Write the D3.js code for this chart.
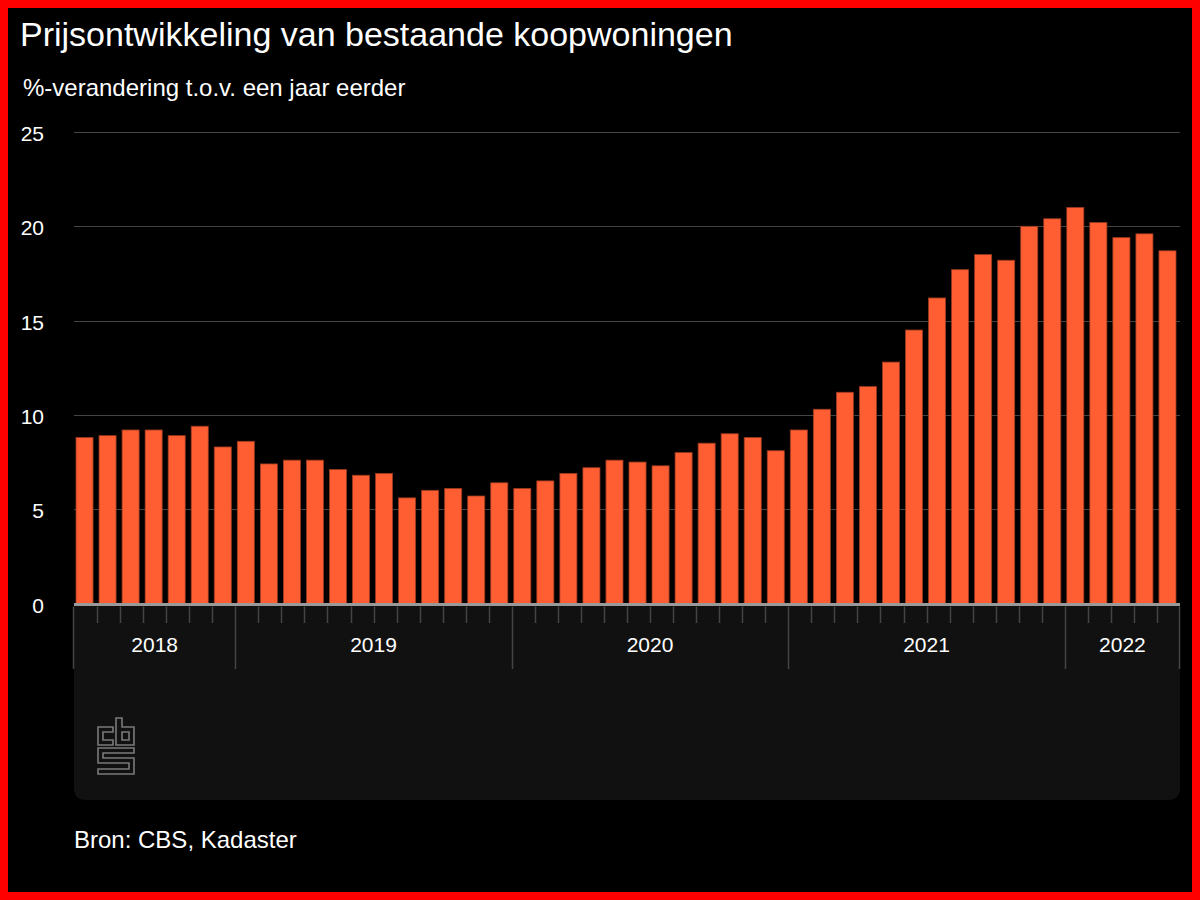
<!DOCTYPE html>
<html>
<head>
<meta charset="utf-8">
<script src="https://cdn.jsdelivr.net/npm/d3@7"></script>
<style>
  html, body { margin: 0; padding: 0; background: #000; }
  svg { display: block; }
</style>
</head>
<body>
<svg id="chart" width="1200" height="900"></svg>
<script>
// ---- data ----
const years = [2018, 2019, 2020, 2021, 2022];
const monthsPerYear = [7, 12, 12, 12, 5]; // 2018: jun-dec, 2022: jan-mei
const values = [
  8.8, 8.9, 9.2, 9.2, 8.9, 9.4, 8.3,
  8.6, 7.4, 7.6, 7.6, 7.1, 6.8, 6.9, 5.6, 6.0, 6.1, 5.7, 6.4,
  6.1, 6.5, 6.9, 7.2, 7.6, 7.5, 7.3, 8.0, 8.5, 9.0, 8.8, 8.1,
  9.2, 10.3, 11.2, 11.5, 12.8, 14.5, 16.2, 17.7, 18.5, 18.2, 20.0, 20.4,
  21.0, 20.2, 19.4, 19.6, 18.7
];
const yTicks = [0, 5, 10, 15, 20, 25];
const title = "Prijsontwikkeling van bestaande koopwoningen";
const subtitle = "%-verandering t.o.v. een jaar eerder";
const source = "Bron: CBS, Kadaster";

// ---- layout ----
const W = 1200, H = 900;
const plotLeft = 74, plotRight = 1180, plotTop = 132, zeroY = 603.5;
const svg = d3.select("#chart");
const font = "'Liberation Sans', Arial, sans-serif";

svg.append("rect").attr("width", W).attr("height", H).attr("fill", "#000");

const idx = d3.range(values.length);
const x = d3.scaleBand().domain(idx).range([plotLeft, plotRight]).padding(0);
const y = d3.scaleLinear().domain([0, 25]).range([zeroY, plotTop]);

// panel below axis
const panelBottom = 800, r = 12;
svg.append("path")
  .attr("d", `M${plotLeft},${zeroY} H${plotRight} V${panelBottom - r} Q${plotRight},${panelBottom} ${plotRight - r},${panelBottom} H${plotLeft + r} Q${plotLeft},${panelBottom} ${plotLeft},${panelBottom - r} Z`)
  .attr("fill", "#111");

// gridlines + y labels
const gy = svg.append("g");
gy.selectAll("line").data(yTicks.filter(t => t > 0)).join("line")
  .attr("x1", plotLeft).attr("x2", plotRight)
  .attr("y1", d => Math.round(y(d)) + 0.5).attr("y2", d => Math.round(y(d)) + 0.5)
  .attr("stroke", "#444").attr("stroke-width", 1);
gy.selectAll("text").data(yTicks).join("text")
  .attr("x", 44).attr("y", d => y(d) + 9)
  .attr("text-anchor", "end")
  .attr("fill", "#fff").attr("font-family", font).attr("font-size", 21)
  .text(d => d);

// bars
svg.append("g").selectAll("rect").data(values).join("rect")
  .attr("x", (d, i) => x(i) + 2)
  .attr("width", x.bandwidth() - 6)
  .attr("y", d => y(d))
  .attr("height", d => y(0) - y(d))
  .attr("fill", "#ff5e32")
  .attr("stroke", "#9a3a20").attr("stroke-width", 0.8);

// axis line
svg.append("line")
  .attr("x1", plotLeft).attr("x2", plotRight)
  .attr("y1", zeroY + 1).attr("y2", zeroY + 1)
  .attr("stroke", "#999").attr("stroke-width", 3);

// ticks
const starts = [];
let acc = 0;
monthsPerYear.forEach(n => { starts.push(acc); acc += n; });
const tickG = svg.append("g");
idx.slice(1).forEach(i => {
  const isMajor = starts.includes(i);
  const xx = Math.round(x(i)) + 0.5;
  tickG.append("line")
    .attr("x1", xx).attr("x2", xx)
    .attr("y1", zeroY + 3).attr("y2", isMajor ? 669 : 623)
    .attr("stroke", "#444").attr("stroke-width", 1.5);
});
[plotLeft, plotRight].forEach(xx => {
  tickG.append("line")
    .attr("x1", xx - 0.5).attr("x2", xx - 0.5)
    .attr("y1", zeroY + 3).attr("y2", 669)
    .attr("stroke", "#444").attr("stroke-width", 1.5);
});

// year labels
svg.append("g").selectAll("text").data(years).join("text")
  .attr("x", (d, k) => {
    const a = x(starts[k]);
    const b = x(starts[k] + monthsPerYear[k] - 1) + x.bandwidth();
    return (a + b) / 2;
  })
  .attr("y", 652)
  .attr("text-anchor", "middle")
  .attr("fill", "#fff").attr("font-family", font).attr("font-size", 21)
  .text(d => d);

// CBS logo
const logo = svg.append("g").attr("fill", "none").attr("stroke", "#7a7a7a").attr("stroke-width", 1.6);
logo.append("path").attr("d", "M113,727 H98 V745 H113 V740 H103 V732 H113 Z");
logo.append("path").attr("d", "M116,718 H122 V727 H134 V745 H116 Z M122,732 H129 V740 H122 Z");
logo.append("path").attr("d", "M98,748 H134 V753 H103 V758 H134 V774 H98 V769 H129 V763 H98 Z");

// texts
svg.append("text").attr("x", 20).attr("y", 46)
  .attr("fill", "#fff").attr("font-family", font).attr("font-size", 34)
  .text(title);
svg.append("text").attr("x", 23).attr("y", 96)
  .attr("fill", "#fff").attr("font-family", font).attr("font-size", 24)
  .text(subtitle);
svg.append("text").attr("x", 74).attr("y", 848)
  .attr("fill", "#fff").attr("font-family", font).attr("font-size", 24)
  .text(source);

// red frame
svg.append("rect").attr("x", 4).attr("y", 4).attr("width", W - 8).attr("height", H - 8)
  .attr("fill", "none").attr("stroke", "#ff0000").attr("stroke-width", 8);
</script>
</body>
</html>
